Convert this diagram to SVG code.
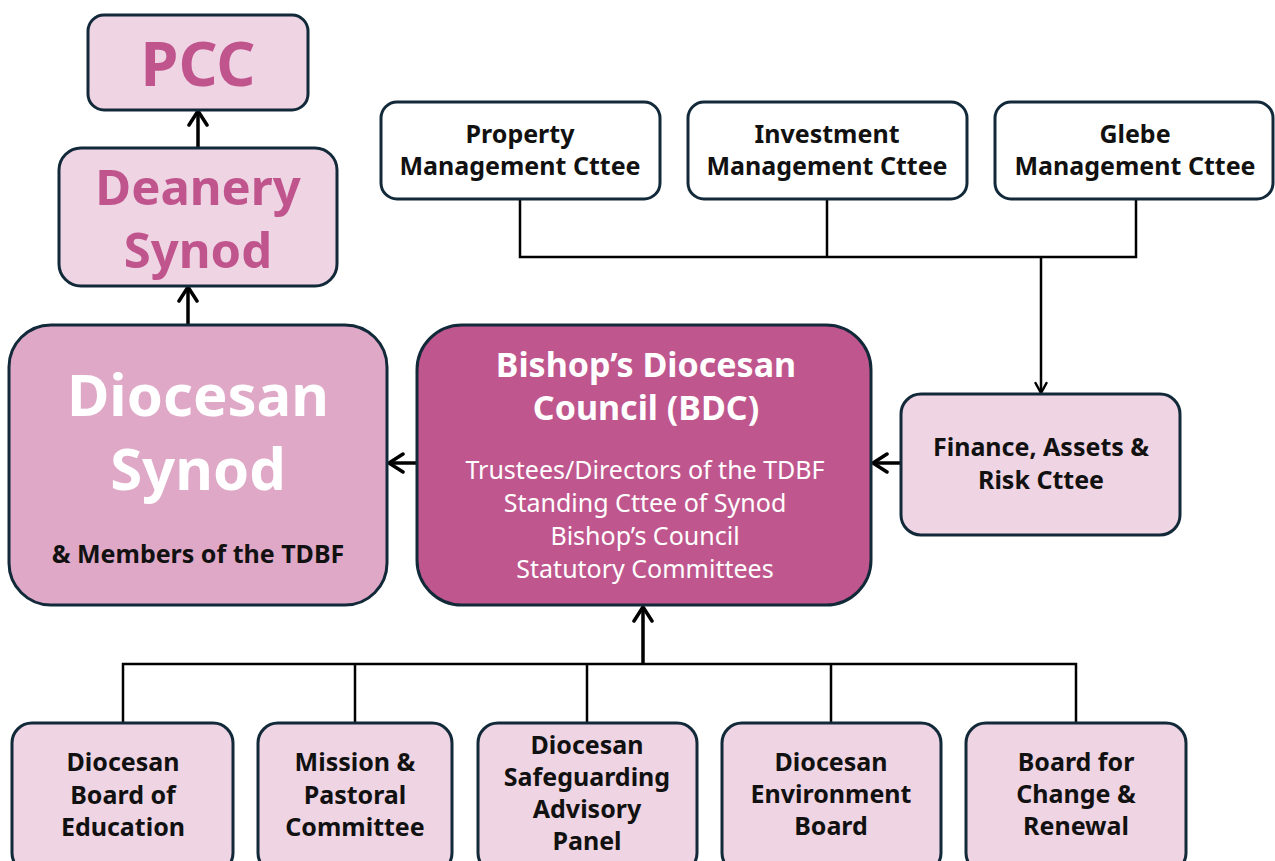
<svg xmlns="http://www.w3.org/2000/svg" width="1275" height="861" viewBox="0 0 1275 861">
<defs>
<style>
.box{stroke:#12293a;stroke-width:3}
.light{fill:#efd4e3}
.white{fill:#ffffff}
.mid{fill:#dfa8c6}
.dark{fill:#bf578e}
text{font-family:"Noto Sans","Open Sans","DejaVu Sans",sans-serif;text-anchor:middle}
.t{font-weight:bold;fill:#111;font-size:25px}
.pink{fill:#c0558e;font-weight:bold}
.w{fill:#fff}
.conn{fill:none;stroke:#000;stroke-width:3.5}
.thin{fill:none;stroke:#000;stroke-width:2.5}
</style>
<marker id="arr" viewBox="0 0 14 14" refX="12" refY="7" markerWidth="14" markerHeight="14" markerUnits="userSpaceOnUse" orient="auto">
<path d="M2,1.5 L12,7 L2,12.5" fill="none" stroke="#000" stroke-width="2.5" stroke-linecap="round" stroke-linejoin="round"/>
</marker>
<marker id="arrL" viewBox="0 0 20 22" refX="17" refY="11" markerWidth="20" markerHeight="22" markerUnits="userSpaceOnUse" orient="auto">
<path d="M3,2 L17,11 L3,20" fill="none" stroke="#000" stroke-width="3.5" stroke-linecap="round" stroke-linejoin="round"/>
</marker>
</defs>

<g id="connectors">
<path class="conn" d="M198,148 V111" marker-end="url(#arrL)"/>
<path class="conn" d="M188,324 V287" marker-end="url(#arrL)"/>
<path class="conn" d="M417,463 H389" marker-end="url(#arrL)"/>
<path class="conn" d="M901,463 H873" marker-end="url(#arrL)"/>
<path class="thin" d="M520,199 V257 H1136 V199 M827,199 V257"/>
<path class="thin" d="M1041,257 V393" marker-end="url(#arr)"/>
<path class="thin" d="M123,723 V664 H1076 V723 M355,723 V664 M587,723 V664 M831,723 V664"/>
<path class="conn" d="M643,664 V607" marker-end="url(#arrL)"/>
</g>

<g id="pcc">
<rect class="box light" x="88" y="15" width="220" height="95" rx="16"/>
<text class="pink" x="198" y="86" font-size="61">PCC</text>
</g>
<g id="deanery-synod">
<rect class="box light" x="59" y="148" width="278" height="138" rx="22"/>
<text class="pink" x="198" y="205" font-size="49">Deanery</text>
<text class="pink" x="198" y="268" font-size="49">Synod</text>
</g>
<g id="diocesan-synod">
<rect class="box mid" x="9" y="325" width="378" height="280" rx="42"/>
<text class="w" x="198" y="416" font-size="58" font-weight="bold">Diocesan</text>
<text class="w" x="198" y="490" font-size="58" font-weight="bold">Synod</text>
<text class="t" x="198" y="563" font-size="24">&amp; Members of the TDBF</text>
</g>
<g id="bdc">
<rect class="box dark" x="417" y="325" width="454" height="280" rx="45"/>
<text class="w" x="646" y="377" font-size="34" font-weight="bold">Bishop’s Diocesan</text>
<text class="w" x="646" y="420" font-size="34" font-weight="bold">Council (BDC)</text>
<text class="w" x="645" y="479" font-size="25">Trustees/Directors of the TDBF</text>
<text class="w" x="645" y="512" font-size="25">Standing Cttee of Synod</text>
<text class="w" x="645" y="545" font-size="25">Bishop’s Council</text>
<text class="w" x="645" y="578" font-size="25">Statutory Committees</text>
</g>
<g id="finance">
<rect class="box light" x="901" y="394" width="279" height="141" rx="20"/>
<text class="t" x="1041" y="456" font-size="26">Finance, Assets &amp;</text>
<text class="t" x="1041" y="489" font-size="26">Risk Cttee</text>
</g>
<g id="property">
<rect class="box white" x="381" y="102" width="279" height="97" rx="16"/>
<text class="t" x="520" y="143">Property</text>
<text class="t" x="520" y="175">Management Cttee</text>
</g>
<g id="investment">
<rect class="box white" x="688" y="102" width="279" height="97" rx="16"/>
<text class="t" x="827" y="143">Investment</text>
<text class="t" x="827" y="175">Management Cttee</text>
</g>
<g id="glebe">
<rect class="box white" x="995" y="102" width="278" height="97" rx="16"/>
<text class="t" x="1135" y="143">Glebe</text>
<text class="t" x="1135" y="175">Management Cttee</text>
</g>
<g id="dbe">
<rect class="box light" x="12" y="723" width="221" height="150" rx="20"/>
<text class="t" x="123" y="771">Diocesan</text>
<text class="t" x="123" y="804">Board of</text>
<text class="t" x="123" y="836">Education</text>
</g>
<g id="mission">
<rect class="box light" x="258" y="723" width="194" height="150" rx="20"/>
<text class="t" x="355" y="771">Mission &amp;</text>
<text class="t" x="355" y="804">Pastoral</text>
<text class="t" x="355" y="836">Committee</text>
</g>
<g id="safeguarding">
<rect class="box light" x="478" y="723" width="219" height="150" rx="20"/>
<text class="t" x="587" y="754">Diocesan</text>
<text class="t" x="587" y="786">Safeguarding</text>
<text class="t" x="587" y="818">Advisory</text>
<text class="t" x="587" y="850">Panel</text>
</g>
<g id="environment">
<rect class="box light" x="722" y="723" width="219" height="150" rx="20"/>
<text class="t" x="831" y="771">Diocesan</text>
<text class="t" x="831" y="803">Environment</text>
<text class="t" x="831" y="835">Board</text>
</g>
<g id="change">
<rect class="box light" x="966" y="723" width="220" height="150" rx="20"/>
<text class="t" x="1076" y="771">Board for</text>
<text class="t" x="1076" y="803">Change &amp;</text>
<text class="t" x="1076" y="835">Renewal</text>
</g>
</svg>
